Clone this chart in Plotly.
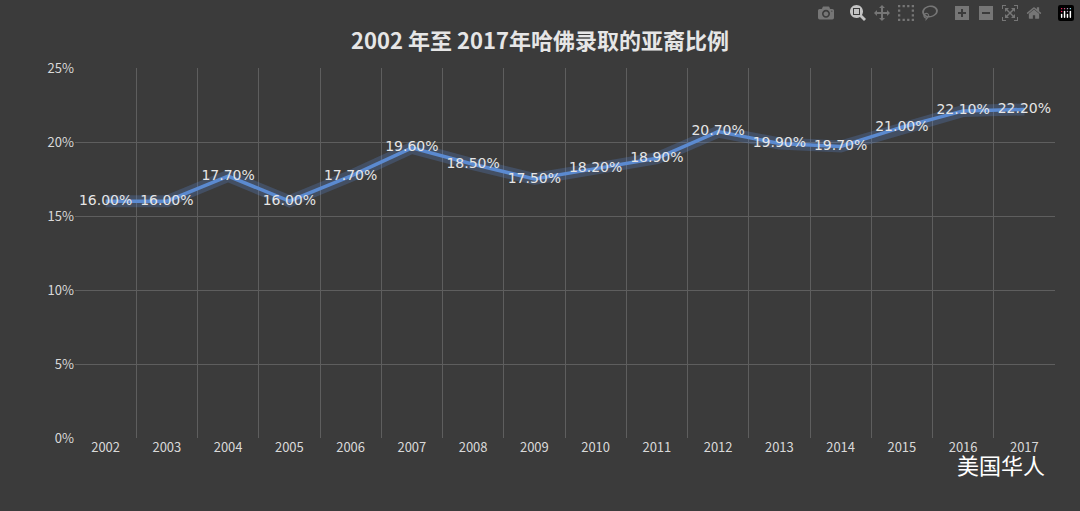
import plotly.graph_objects as go

years = list(range(2002, 2018))
values = [16.0, 16.0, 17.7, 16.0, 17.7, 19.6, 18.5, 17.5, 18.2, 18.9, 20.7, 19.9, 19.7, 21.0, 22.1, 22.2]
labels = [f"{v:.2f}%" for v in values]

fig = go.Figure()
fig.add_trace(go.Scatter(x=years, y=values, mode="lines",
                         line=dict(color="rgba(90,140,220,0.25)", width=12), hoverinfo="skip"))
fig.add_trace(go.Scatter(x=years, y=values, mode="lines+text", text=labels,
                         textposition="middle center",
                         textfont=dict(color="#e6e6e6", size=14, family="DejaVu Sans"),
                         line=dict(color="#5b8ad0", width=3.5)))
font = "Noto Sans CJK SC"
fig.update_layout(
    width=1080, height=511, showlegend=False,
    paper_bgcolor="#3b3b3b", plot_bgcolor="#3b3b3b",
    margin=dict(l=75, r=25, t=68, b=73),
    title=dict(text="<b>2002 年至 2017年哈佛录取的亚裔比例</b>", x=0.5, y=0.935,
               xanchor="center", font=dict(color="#e6e6e6", size=22, family=font)),
    font=dict(family=font, color="#d9d9d9", size=13),
    annotations=[dict(text="美国华人", x=0.945, y=-0.07, xref="paper", yref="paper",
                      xanchor="center", yanchor="middle", showarrow=False,
                      font=dict(color="white", size=22, family=font))],
)
fig.update_xaxes(range=[2001.5, 2017.5], tickvals=years, ticktext=[str(y) for y in years],
                 showgrid=False, zeroline=False, ticks="", tickfont=dict(size=13),
                 minor=dict(tickvals=[y + 0.5 for y in range(2001, 2018)], showgrid=True,
                            gridcolor="#5e5e5e", gridwidth=1))
fig.update_yaxes(range=[0, 25], tickvals=[0, 5, 10, 15, 20, 25],
                 ticktext=["0%", "5%", "10%", "15%", "20%", "25%"],
                 gridcolor="#5e5e5e", zeroline=False, ticks="", ticklen=0,
                 tickfont=dict(size=13))
fig.write_html("out.html", post_script="document.body.style.margin='0';document.body.style.background='#3b3b3b';")
